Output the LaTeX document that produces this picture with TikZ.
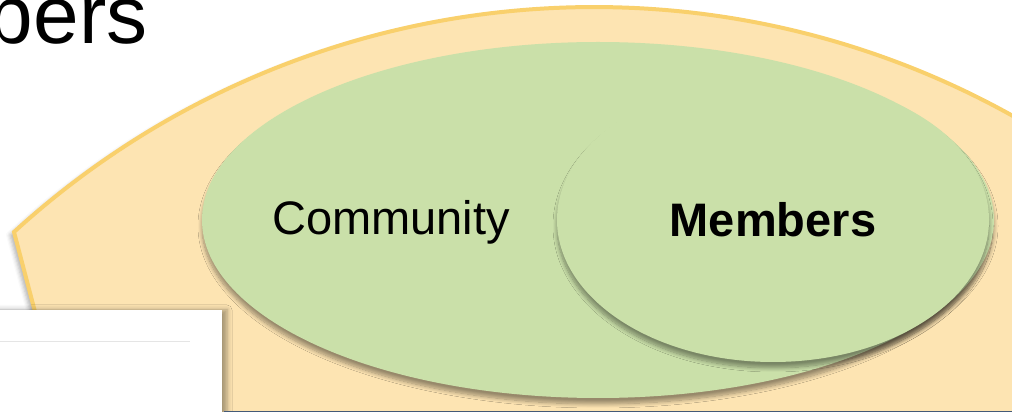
\documentclass[tikz,border=0pt]{standalone}
\usepackage{fontspec}
\setmainfont{Liberation Sans}
\usetikzlibrary{shapes.geometric,shadows.blur}
\definecolor{peach}{RGB}{253,228,178}
\definecolor{gold}{RGB}{249,208,108}
\definecolor{leaf}{RGB}{202,224,169}
\definecolor{slate}{RGB}{68,90,120}

\begin{document}
\begin{tikzpicture}[x=1pt,y=1pt,
  blob/.style={ellipse,fill=leaf,inner sep=0pt,
    blur shadow={shadow xshift=0pt,shadow yshift=-6pt,shadow opacity=40,shadow blur steps=10,shadow blur radius=4pt}},
  word/.style={font=\fontsize{47}{50}\selectfont}]
\useasboundingbox (0,0) rectangle (1012,412);
\clip (0,0) rectangle (1012,412);

%% titre
\node[anchor=base east,font=\fontsize{82}{90}\selectfont] (title) at (151,368) {bers};

%% fond orange
\draw[gold,line width=4pt,fill=peach,
  blur shadow={shadow xshift=-4pt,shadow yshift=-3pt,shadow opacity=30,shadow blur radius=4pt}]
  (64,-10) -- (14,180) arc[start angle=132.4,end angle=55,radius=860pt] -- (1030,-10) -- cycle;

%% ellipses
\node[blob,minimum width=792pt,minimum height=356pt] (community) at (598,192) {};
\node[blob,minimum width=432pt,minimum height=284pt] (members) at (773,192) {};
\node[word] (communitytext) at (391,190) {Community};
\node[word,font=\fontsize{47}{50}\selectfont\bfseries] (memberstext) at (members.center) {Members};

%% cadre blanc
\fill[white,blur shadow={shadow xshift=5pt,shadow yshift=0pt,shadow opacity=35,shadow blur radius=5pt}]
  (-20,-20) rectangle (222,102);
\draw[gray!20,line width=1pt] (0,70) -- (190,70);

%% bas
\draw[slate,line width=1.5pt] (224,0.5) -- (1012,0.5);

\end{tikzpicture}
\end{document}
